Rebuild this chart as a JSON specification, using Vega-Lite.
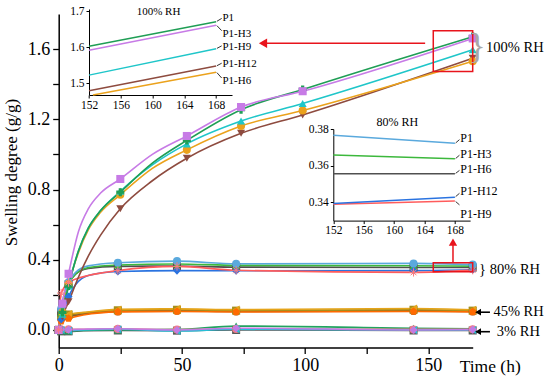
{
"$schema":"https://vega.github.io/schema/vega-lite/v6.json",
"width":414,"height":333.5,
"autosize":{"type":"none"},
"padding":{"left":58.7,"top":14,"right":77.3,"bottom":33.5},
"config":{"font":"'Liberation Serif', 'Times New Roman', Times, serif","view":{"stroke":null},
 "axis":{"grid":false,"labelFlush":false,"labelOverlap":false,"domainColor":"#000","tickColor":"#000","labelColor":"#000","titleColor":"#000","titleFontWeight":"normal","labelFont":"'Liberation Serif', 'Times New Roman', Times, serif","titleFont":"'Liberation Serif', 'Times New Roman', Times, serif"},
 "text":{"font":"'Liberation Serif', 'Times New Roman', Times, serif","color":"#000"}},
"datasets":{
"d":[
{"s":"3% P1","t":0,"v":0,"obs":1},{"s":"3% P1","t":1,"v":-0.008,"obs":1},{"s":"3% P1","t":4,"v":-0.008,"obs":1},{"s":"3% P1","t":10,"v":-0.005,"obs":0},{"s":"3% P1","t":24,"v":-0.003,"obs":1},{"s":"3% P1","t":48,"v":-0.004,"obs":1},{"s":"3% P1","t":72,"v":0,"obs":1},{"s":"3% P1","t":144,"v":-0.003,"obs":1},{"s":"3% P1","t":168,"v":-0.003,"obs":1},
{"s":"3% P1-H3","t":0,"v":0,"obs":1},{"s":"3% P1-H3","t":1,"v":-0.005,"obs":1},{"s":"3% P1-H3","t":4,"v":-0.006,"obs":1},{"s":"3% P1-H3","t":10,"v":-0.003,"obs":0},{"s":"3% P1-H3","t":24,"v":0,"obs":1},{"s":"3% P1-H3","t":48,"v":0.003,"obs":1},{"s":"3% P1-H3","t":72,"v":0.022,"obs":1},{"s":"3% P1-H3","t":144,"v":0.01,"obs":1},{"s":"3% P1-H3","t":168,"v":0.006,"obs":1},
{"s":"3% P1-H6","t":0,"v":0,"obs":1},{"s":"3% P1-H6","t":1,"v":0.003,"obs":1},{"s":"3% P1-H6","t":4,"v":0.004,"obs":1},{"s":"3% P1-H6","t":10,"v":0.004,"obs":0},{"s":"3% P1-H6","t":24,"v":0.006,"obs":1},{"s":"3% P1-H6","t":48,"v":0.002,"obs":1},{"s":"3% P1-H6","t":72,"v":0.005,"obs":1},{"s":"3% P1-H6","t":144,"v":0.003,"obs":1},{"s":"3% P1-H6","t":168,"v":0.004,"obs":1},
{"s":"3% P1-H9","t":0,"v":0,"obs":1},{"s":"3% P1-H9","t":1,"v":0,"obs":1},{"s":"3% P1-H9","t":4,"v":-0.004,"obs":1},{"s":"3% P1-H9","t":10,"v":0,"obs":0},{"s":"3% P1-H9","t":24,"v":0.004,"obs":1},{"s":"3% P1-H9","t":48,"v":-0.006,"obs":1},{"s":"3% P1-H9","t":72,"v":0.004,"obs":1},{"s":"3% P1-H9","t":144,"v":0,"obs":1},{"s":"3% P1-H9","t":168,"v":0,"obs":1},
{"s":"3% P1-H12","t":0,"v":0,"obs":1},{"s":"3% P1-H12","t":1,"v":0.004,"obs":1},{"s":"3% P1-H12","t":4,"v":0.002,"obs":1},{"s":"3% P1-H12","t":10,"v":0.004,"obs":0},{"s":"3% P1-H12","t":24,"v":0.007,"obs":1},{"s":"3% P1-H12","t":48,"v":0,"obs":1},{"s":"3% P1-H12","t":72,"v":0.01,"obs":1},{"s":"3% P1-H12","t":144,"v":0,"obs":1},{"s":"3% P1-H12","t":168,"v":0.002,"obs":1},
{"s":"45% P1","t":0,"v":0,"obs":1},{"s":"45% P1","t":1,"v":0.07,"obs":1},{"s":"45% P1","t":4,"v":0.085,"obs":1},{"s":"45% P1","t":10,"v":0.095,"obs":0},{"s":"45% P1","t":24,"v":0.11,"obs":1},{"s":"45% P1","t":48,"v":0.112,"obs":1},{"s":"45% P1","t":72,"v":0.108,"obs":1},{"s":"45% P1","t":144,"v":0.112,"obs":1},{"s":"45% P1","t":168,"v":0.108,"obs":1},
{"s":"45% P1-H3","t":0,"v":0,"obs":1},{"s":"45% P1-H3","t":1,"v":0.065,"obs":1},{"s":"45% P1-H3","t":4,"v":0.075,"obs":1},{"s":"45% P1-H3","t":10,"v":0.09,"obs":0},{"s":"45% P1-H3","t":24,"v":0.105,"obs":1},{"s":"45% P1-H3","t":48,"v":0.11,"obs":1},{"s":"45% P1-H3","t":72,"v":0.105,"obs":1},{"s":"45% P1-H3","t":144,"v":0.108,"obs":1},{"s":"45% P1-H3","t":168,"v":0.105,"obs":1},
{"s":"45% P1-H6","t":0,"v":0,"obs":1},{"s":"45% P1-H6","t":1,"v":0.08,"obs":1},{"s":"45% P1-H6","t":4,"v":0.088,"obs":1},{"s":"45% P1-H6","t":10,"v":0.098,"obs":0},{"s":"45% P1-H6","t":24,"v":0.112,"obs":1},{"s":"45% P1-H6","t":48,"v":0.115,"obs":1},{"s":"45% P1-H6","t":72,"v":0.11,"obs":1},{"s":"45% P1-H6","t":144,"v":0.115,"obs":1},{"s":"45% P1-H6","t":168,"v":0.11,"obs":1},
{"s":"45% P1-H9","t":0,"v":0,"obs":1},{"s":"45% P1-H9","t":1,"v":0.08,"obs":1},{"s":"45% P1-H9","t":4,"v":0.09,"obs":1},{"s":"45% P1-H9","t":10,"v":0.1,"obs":0},{"s":"45% P1-H9","t":24,"v":0.117,"obs":1},{"s":"45% P1-H9","t":48,"v":0.12,"obs":1},{"s":"45% P1-H9","t":72,"v":0.116,"obs":1},{"s":"45% P1-H9","t":144,"v":0.122,"obs":1},{"s":"45% P1-H9","t":168,"v":0.115,"obs":1},
{"s":"45% P1-H12","t":0,"v":0,"obs":1},{"s":"45% P1-H12","t":1,"v":0.05,"obs":1},{"s":"45% P1-H12","t":4,"v":0.065,"obs":1},{"s":"45% P1-H12","t":10,"v":0.085,"obs":0},{"s":"45% P1-H12","t":24,"v":0.103,"obs":1},{"s":"45% P1-H12","t":48,"v":0.105,"obs":1},{"s":"45% P1-H12","t":72,"v":0.102,"obs":1},{"s":"45% P1-H12","t":144,"v":0.105,"obs":1},{"s":"45% P1-H12","t":168,"v":0.103,"obs":1},
{"s":"80% P1-H6","t":0,"v":0,"obs":1},{"s":"80% P1-H6","t":1,"v":0.1,"obs":1},{"s":"80% P1-H6","t":4,"v":0.26,"obs":1},{"s":"80% P1-H6","t":7,"v":0.32,"obs":0},{"s":"80% P1-H6","t":12,"v":0.35,"obs":0},{"s":"80% P1-H6","t":24,"v":0.362,"obs":1},{"s":"80% P1-H6","t":48,"v":0.364,"obs":1},{"s":"80% P1-H6","t":72,"v":0.358,"obs":1},{"s":"80% P1-H6","t":144,"v":0.356,"obs":1},{"s":"80% P1-H6","t":168,"v":0.3556,"obs":1},
{"s":"80% P1-H3","t":0,"v":0,"obs":1},{"s":"80% P1-H3","t":1,"v":0.1,"obs":1},{"s":"80% P1-H3","t":4,"v":0.26,"obs":1},{"s":"80% P1-H3","t":7,"v":0.32,"obs":0},{"s":"80% P1-H3","t":12,"v":0.355,"obs":0},{"s":"80% P1-H3","t":24,"v":0.37,"obs":1},{"s":"80% P1-H3","t":48,"v":0.376,"obs":1},{"s":"80% P1-H3","t":72,"v":0.368,"obs":1},{"s":"80% P1-H3","t":144,"v":0.366,"obs":1},{"s":"80% P1-H3","t":168,"v":0.3637,"obs":1},
{"s":"80% P1-H12","t":0,"v":0,"obs":1},{"s":"80% P1-H12","t":1,"v":0.06,"obs":1},{"s":"80% P1-H12","t":4,"v":0.19,"obs":1},{"s":"80% P1-H12","t":7,"v":0.26,"obs":0},{"s":"80% P1-H12","t":12,"v":0.31,"obs":0},{"s":"80% P1-H12","t":24,"v":0.333,"obs":1},{"s":"80% P1-H12","t":48,"v":0.338,"obs":1},{"s":"80% P1-H12","t":72,"v":0.337,"obs":1},{"s":"80% P1-H12","t":144,"v":0.338,"obs":1},{"s":"80% P1-H12","t":168,"v":0.3428,"obs":1},
{"s":"80% P1-H9","t":0,"v":0,"obs":1},{"s":"80% P1-H9","t":1,"v":0.21,"obs":1},{"s":"80% P1-H9","t":4,"v":0.27,"obs":1},{"s":"80% P1-H9","t":7,"v":0.29,"obs":0},{"s":"80% P1-H9","t":12,"v":0.31,"obs":0},{"s":"80% P1-H9","t":24,"v":0.338,"obs":1},{"s":"80% P1-H9","t":48,"v":0.362,"obs":1},{"s":"80% P1-H9","t":72,"v":0.34,"obs":1},{"s":"80% P1-H9","t":144,"v":0.328,"obs":1},{"s":"80% P1-H9","t":168,"v":0.3407,"obs":1},
{"s":"80% P1","t":0,"v":0,"obs":1},{"s":"80% P1","t":1,"v":0.12,"obs":1},{"s":"80% P1","t":4,"v":0.27,"obs":1},{"s":"80% P1","t":7,"v":0.33,"obs":0},{"s":"80% P1","t":12,"v":0.365,"obs":0},{"s":"80% P1","t":24,"v":0.383,"obs":1},{"s":"80% P1","t":48,"v":0.392,"obs":1},{"s":"80% P1","t":72,"v":0.377,"obs":1},{"s":"80% P1","t":144,"v":0.379,"obs":1},{"s":"80% P1","t":168,"v":0.3722,"obs":1},
{"s":"100% P1-H12","t":0,"v":0,"obs":1},{"s":"100% P1-H12","t":1.5,"v":0.075,"obs":1},{"s":"100% P1-H12","t":4,"v":0.16,"obs":1},{"s":"100% P1-H12","t":8,"v":0.3,"obs":0},{"s":"100% P1-H12","t":12,"v":0.42,"obs":0},{"s":"100% P1-H12","t":17,"v":0.54,"obs":0},{"s":"100% P1-H12","t":25,"v":0.69,"obs":1},{"s":"100% P1-H12","t":38,"v":0.85,"obs":0},{"s":"100% P1-H12","t":52,"v":0.978,"obs":1},{"s":"100% P1-H12","t":74,"v":1.12,"obs":1},{"s":"100% P1-H12","t":99,"v":1.225,"obs":1},{"s":"100% P1-H12","t":168,"v":1.548,"obs":1},
{"s":"100% P1-H6","t":0,"v":0,"obs":1},{"s":"100% P1-H6","t":1.5,"v":0.1,"obs":1},{"s":"100% P1-H6","t":4,"v":0.26,"obs":1},{"s":"100% P1-H6","t":8,"v":0.44,"obs":0},{"s":"100% P1-H6","t":12,"v":0.57,"obs":0},{"s":"100% P1-H6","t":17,"v":0.67,"obs":0},{"s":"100% P1-H6","t":25,"v":0.77,"obs":1},{"s":"100% P1-H6","t":38,"v":0.92,"obs":0},{"s":"100% P1-H6","t":52,"v":1.026,"obs":1},{"s":"100% P1-H6","t":74,"v":1.162,"obs":1},{"s":"100% P1-H6","t":99,"v":1.25,"obs":1},{"s":"100% P1-H6","t":168,"v":1.531,"obs":1},
{"s":"100% P1-H9","t":0,"v":0,"obs":1},{"s":"100% P1-H9","t":1.5,"v":0.09,"obs":1},{"s":"100% P1-H9","t":4,"v":0.25,"obs":1},{"s":"100% P1-H9","t":8,"v":0.45,"obs":0},{"s":"100% P1-H9","t":12,"v":0.58,"obs":0},{"s":"100% P1-H9","t":17,"v":0.68,"obs":0},{"s":"100% P1-H9","t":25,"v":0.79,"obs":1},{"s":"100% P1-H9","t":38,"v":0.94,"obs":0},{"s":"100% P1-H9","t":52,"v":1.06,"obs":1},{"s":"100% P1-H9","t":74,"v":1.19,"obs":1},{"s":"100% P1-H9","t":99,"v":1.29,"obs":1},{"s":"100% P1-H9","t":168,"v":1.596,"obs":1},
{"s":"100% P1","t":0,"v":0,"obs":1},{"s":"100% P1","t":1.5,"v":0.1,"obs":1},{"s":"100% P1","t":4,"v":0.25,"obs":1},{"s":"100% P1","t":8,"v":0.45,"obs":0},{"s":"100% P1","t":12,"v":0.58,"obs":0},{"s":"100% P1","t":17,"v":0.68,"obs":0},{"s":"100% P1","t":25,"v":0.785,"obs":1},{"s":"100% P1","t":38,"v":0.95,"obs":0},{"s":"100% P1","t":52,"v":1.08,"obs":1},{"s":"100% P1","t":74,"v":1.255,"obs":1},{"s":"100% P1","t":99,"v":1.37,"obs":1},{"s":"100% P1","t":168,"v":1.671,"obs":1},
{"s":"100% P1-H3","t":0,"v":0,"obs":1},{"s":"100% P1-H3","t":1.5,"v":0.15,"obs":1},{"s":"100% P1-H3","t":4,"v":0.32,"obs":1},{"s":"100% P1-H3","t":8,"v":0.56,"obs":0},{"s":"100% P1-H3","t":12,"v":0.69,"obs":0},{"s":"100% P1-H3","t":17,"v":0.78,"obs":0},{"s":"100% P1-H3","t":25,"v":0.86,"obs":1},{"s":"100% P1-H3","t":38,"v":1.0,"obs":0},{"s":"100% P1-H3","t":52,"v":1.105,"obs":1},{"s":"100% P1-H3","t":74,"v":1.27,"obs":1},{"s":"100% P1-H3","t":99,"v":1.36,"obs":1},{"s":"100% P1-H3","t":168,"v":1.661,"obs":1}
],
"boxes":[{"t":152,"t2":168,"v":1.472,"v2":1.705},{"t":152,"t2":168,"v":0.332,"v2":0.383}],
"redH":[{"t":82.9,"t2":148.7,"v":1.634}],
"redV":[{"t":160,"v":0.383,"v2":0.5}],
"redL":[{"t":82.9,"v":1.634}],
"redU":[{"t":160,"v":0.5}],
"blk":[{"t":170,"t2":175,"v":0.101},{"t":170,"t2":175,"v":-0.01}],
"blkL":[{"t":170.2,"v":0.101},{"t":170.2,"v":-0.01}],
"txt":[{"t":176.4,"v":0.101,"label":"45% RH"},{"t":177.8,"v":-0.01,"label":"3% RH"},{"t":170.6,"v":0.342,"label":"} 80% RH"},{"t":173.4,"v":1.607,"label":"100% RH"}],
"brace":[{"t":169.8,"v":1.61,"label":"}"}],
"i100":[{"s":"100% P1-H6","t":152.5,"v":1.468},{"s":"100% P1-H6","t":168,"v":1.531},{"s":"100% P1-H12","t":152,"v":1.48},{"s":"100% P1-H12","t":168,"v":1.548},{"s":"100% P1-H9","t":152,"v":1.523},{"s":"100% P1-H9","t":168,"v":1.596},{"s":"100% P1-H3","t":152,"v":1.592},{"s":"100% P1-H3","t":168,"v":1.661},{"s":"100% P1","t":152,"v":1.603},{"s":"100% P1","t":168,"v":1.671}],
"l100":[{"t":168.1,"v":1.672,"t2":168.7,"v2":1.68},{"t":168.1,"v":1.66,"t2":168.7,"v2":1.646},{"t":168.1,"v":1.597,"t2":168.7,"v2":1.604},{"t":168.1,"v":1.549,"t2":168.7,"v2":1.556},{"t":168.1,"v":1.53,"t2":168.7,"v2":1.515}],
"t100":[{"t":168.8,"v":1.6816,"label":"P1"},{"t":168.8,"v":1.6357,"label":"P1-H3"},{"t":168.8,"v":1.6014,"label":"P1-H9"},{"t":168.8,"v":1.5527,"label":"P1-H12"},{"t":168.8,"v":1.5065,"label":"P1-H6"},{"t":158,"v":1.698,"label":"100% RH"}],
"i80":[{"s":"80% P1-H6","t":152,"v":0.3556},{"s":"80% P1-H6","t":168,"v":0.3556},{"s":"80% P1-H9","t":152,"v":0.3389},{"s":"80% P1-H9","t":168,"v":0.3407},{"s":"80% P1-H12","t":152,"v":0.3394},{"s":"80% P1-H12","t":168,"v":0.3428},{"s":"80% P1-H3","t":152,"v":0.3658},{"s":"80% P1-H3","t":168,"v":0.3637},{"s":"80% P1","t":152,"v":0.3766},{"s":"80% P1","t":168,"v":0.3722}],
"l80":[{"t":168.1,"v":0.3724,"t2":168.6,"v2":0.3742},{"t":168.1,"v":0.3639,"t2":168.6,"v2":0.3657},{"t":168.1,"v":0.3558,"t2":168.6,"v2":0.3574},{"t":168.1,"v":0.3431,"t2":168.6,"v2":0.3449},{"t":168.1,"v":0.3404,"t2":168.6,"v2":0.3386}],
"t80":[{"t":168.7,"v":0.3749,"label":"P1"},{"t":168.7,"v":0.3664,"label":"P1-H3"},{"t":168.7,"v":0.3582,"label":"P1-H6"},{"t":168.7,"v":0.3462,"label":"P1-H12"},{"t":168.7,"v":0.3336,"label":"P1-H9"},{"t":157.7,"v":0.384,"label":"80% RH"}]
},
"resolve":{"scale":{"x":"independent","y":"independent"},"axis":{"x":"independent","y":"independent"}},
"layer":[
{"layer":[
 {"data":{"name":"d"},"mark":{"type":"line","interpolate":"monotone","strokeWidth":1.6},
  "encoding":{
   "x":{"field":"t","type":"quantitative","scale":{"domain":[0,168],"nice":false,"zero":false},
        "axis":{"orient":"bottom","values":[0,25,50,75,100,125,150],"labelExpr":"datum.value % 50 === 0 ? datum.label : ''","tickSize":6,"tickWidth":1.3,"domainWidth":1.5,"labelFontSize":18,"labelPadding":3,"title":"Time (h)","titleFontSize":17.5,"titleX":431,"titleY":19,"titleAlign":"center","titleBaseline":"middle"}},
   "y":{"field":"v","type":"quantitative","scale":{"domain":[-0.1,1.8],"nice":false,"zero":false},
        "axis":{"orient":"left","values":[0,0.2,0.4,0.6,0.8,1,1.2,1.4,1.6],"labelExpr":"round(datum.value*10) % 4 === 0 ? format(datum.value, '.1f') : ''","tickSize":6,"tickWidth":1.3,"domainWidth":1.5,"labelFontSize":18,"labelPadding":3,"title":"Swelling degree (g/g)","titleFontSize":17,"titleAngle":-90,"titleX":-47,"titleY":158,"titleAlign":"center","titleBaseline":"middle"}},
   "color":{"field":"s","type":"nominal","legend":null,
     "scale":{"domain":["3% P1","3% P1-H3","3% P1-H6","3% P1-H9","3% P1-H12","45% P1","45% P1-H3","45% P1-H6","45% P1-H9","45% P1-H12","80% P1-H6","80% P1-H3","80% P1-H12","80% P1-H9","80% P1","100% P1-H12","100% P1-H6","100% P1-H9","100% P1","100% P1-H3"],
              "range":["#5a5a5a","#22a360","#f07c86","#27bfd6","#c27be3","#6b6b1f","#8b5a2b","#a68f1c","#e5a41a","#ff6a00","#505050","#3cb83c","#2a73e0","#ff5c5c","#5aa9dd","#8e4b3f","#eba21c","#1fc6c9","#1f9e55","#c77be6"]}}
  }},
 {"data":{"name":"d"},"transform":[{"filter":"datum.obs === 1 && datum.s !== '80% P1-H9'"}],
  "mark":{"type":"point","filled":true,"opacity":1,"size":65},
  "encoding":{
   "x":{"field":"t","type":"quantitative"},
   "y":{"field":"v","type":"quantitative"},
   "color":{"field":"s","type":"nominal","legend":null},
   "shape":{"field":"s","type":"nominal","legend":null,
     "scale":{"domain":["3% P1","3% P1-H3","3% P1-H6","3% P1-H9","3% P1-H12","45% P1","45% P1-H3","45% P1-H6","45% P1-H9","45% P1-H12","80% P1-H6","80% P1-H3","80% P1-H12","80% P1-H9","80% P1","100% P1-H12","100% P1-H6","100% P1-H9","100% P1","100% P1-H3"],
              "range":["square","triangle-up","circle","triangle-left","diamond","triangle-down","circle","square","triangle-left","M0,-1L0.951,-0.309L0.588,0.809L-0.588,0.809L-0.951,-0.309Z","square","triangle-up","diamond","circle","circle","triangle-down","circle","triangle-up","cross","square"]}}
  }},
 {"data":{"name":"d"},"transform":[{"filter":"datum.obs === 1 && datum.s === '80% P1-H9'"}],
  "mark":{"type":"point","filled":false,"opacity":1,"size":70,"strokeWidth":1,"color":"#ff7b7b","shape":"M-1,0L1,0M0,-1L0,1M-0.7,-0.7L0.7,0.7M-0.7,0.7L0.7,-0.7"},
  "encoding":{"x":{"field":"t","type":"quantitative"},"y":{"field":"v","type":"quantitative"}}},
 {"data":{"name":"boxes"},"mark":{"type":"rect","fill":"#ffffff","fillOpacity":0,"stroke":"#e8141c","strokeWidth":1.5},
  "encoding":{"x":{"field":"t","type":"quantitative"},"x2":{"field":"t2"},"y":{"field":"v","type":"quantitative"},"y2":{"field":"v2"}}},
 {"data":{"name":"redH"},"mark":{"type":"rule","color":"#e8141c","strokeWidth":1.5},
  "encoding":{"x":{"field":"t","type":"quantitative"},"x2":{"field":"t2"},"y":{"field":"v","type":"quantitative"}}},
 {"data":{"name":"redV"},"mark":{"type":"rule","color":"#e8141c","strokeWidth":1.5},
  "encoding":{"x":{"field":"t","type":"quantitative"},"y":{"field":"v","type":"quantitative"},"y2":{"field":"v2"}}},
 {"data":{"name":"redL"},"mark":{"type":"point","shape":"triangle-left","filled":true,"opacity":1,"color":"#e8141c","size":90},
  "encoding":{"x":{"field":"t","type":"quantitative"},"y":{"field":"v","type":"quantitative"}}},
 {"data":{"name":"redU"},"mark":{"type":"point","shape":"triangle-up","filled":true,"opacity":1,"color":"#e8141c","size":70},
  "encoding":{"x":{"field":"t","type":"quantitative"},"y":{"field":"v","type":"quantitative"}}},
 {"data":{"name":"blk"},"mark":{"type":"rule","color":"#000","strokeWidth":1.6},
  "encoding":{"x":{"field":"t","type":"quantitative"},"x2":{"field":"t2"},"y":{"field":"v","type":"quantitative"}}},
 {"data":{"name":"blkL"},"mark":{"type":"point","shape":"triangle-left","filled":true,"opacity":1,"color":"#000","size":45},
  "encoding":{"x":{"field":"t","type":"quantitative"},"y":{"field":"v","type":"quantitative"}}},
 {"data":{"name":"txt"},"mark":{"type":"text","align":"left","baseline":"middle","fontSize":14.5,"color":"#000"},
  "encoding":{"x":{"field":"t","type":"quantitative"},"y":{"field":"v","type":"quantitative"},"text":{"field":"label"}}},
 {"data":{"name":"brace"},"mark":{"type":"text","align":"center","baseline":"middle","fontSize":36,"color":"#a8a8a8"},
  "encoding":{"x":{"field":"t","type":"quantitative"},"y":{"field":"v","type":"quantitative"},"text":{"field":"label"}}}
]},
{"layer":[
 {"data":{"name":"i100"},"mark":{"type":"line","strokeWidth":1.5},
  "encoding":{
   "x":{"field":"t","type":"quantitative","scale":{"domain":[152,170],"range":[30.3,173.3],"nice":false,"zero":false},
        "axis":{"orient":"bottom","offset":-252.5,"values":[152,156,160,164,168],"tickSize":3,"tickWidth":1,"domainWidth":1,"labelFontSize":11.5,"labelPadding":1,"title":null}},
   "y":{"field":"v","type":"quantitative","scale":{"domain":[1.468,1.706],"range":[81,-5],"nice":false,"zero":false},
        "axis":{"orient":"left","offset":-30.3,"values":[1.5,1.6,1.7],"format":".1f","tickSize":3,"tickWidth":1,"domainWidth":1,"labelFontSize":11.5,"labelPadding":2,"title":null}},
   "color":{"field":"s","type":"nominal","legend":null}
  }},
 {"data":{"name":"l100"},"mark":{"type":"rule","color":"#000","strokeWidth":0.8},
  "encoding":{"x":{"field":"t","type":"quantitative"},"x2":{"field":"t2"},"y":{"field":"v","type":"quantitative"},"y2":{"field":"v2"}}},
 {"data":{"name":"t100"},"mark":{"type":"text","align":"left","baseline":"middle","fontSize":11,"color":"#000"},
  "encoding":{"x":{"field":"t","type":"quantitative"},"y":{"field":"v","type":"quantitative"},"text":{"field":"label"}}}
]},
{"layer":[
 {"data":{"name":"i80"},"mark":{"type":"line","strokeWidth":1.5},
  "encoding":{
   "x":{"field":"t","type":"quantitative","scale":{"domain":[152,170],"range":[274.6,411.4],"nice":false,"zero":false},
        "axis":{"orient":"bottom","offset":-126.9,"values":[152,156,160,164,168],"tickSize":3,"tickWidth":1,"domainWidth":1,"labelFontSize":11.5,"labelPadding":1,"title":null}},
   "y":{"field":"v","type":"quantitative","scale":{"domain":[0.33,0.38],"range":[206.6,115],"nice":false,"zero":false},
        "axis":{"orient":"left","offset":-274.6,"values":[0.34,0.36,0.38],"format":".2f","tickSize":3,"tickWidth":1,"domainWidth":1,"labelFontSize":11.5,"labelPadding":2,"title":null}},
   "color":{"field":"s","type":"nominal","legend":null}
  }},
 {"data":{"name":"l80"},"mark":{"type":"rule","color":"#000","strokeWidth":0.8},
  "encoding":{"x":{"field":"t","type":"quantitative"},"x2":{"field":"t2"},"y":{"field":"v","type":"quantitative"},"y2":{"field":"v2"}}},
 {"data":{"name":"t80"},"mark":{"type":"text","align":"left","baseline":"middle","fontSize":12,"color":"#000"},
  "encoding":{"x":{"field":"t","type":"quantitative"},"y":{"field":"v","type":"quantitative"},"text":{"field":"label"}}}
]}
]
}
